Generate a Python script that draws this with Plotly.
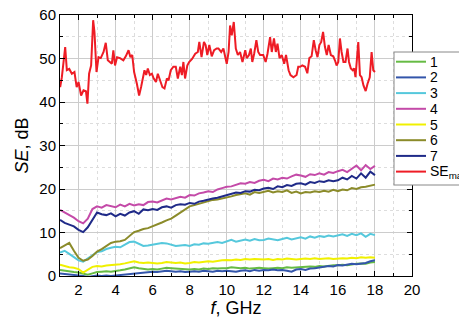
import plotly.graph_objects as go

# common frequency grid for the seven samples (GHz)
freq = [1.0, 1.25, 1.5, 1.75, 2.0, 2.25, 2.5, 2.75, 3.0, 3.25, 3.5, 3.75,
        4.0, 4.25, 4.5, 4.75, 5.0, 5.25, 5.5, 5.75, 6.0, 6.25, 6.5, 6.75,
        7.0, 7.25, 7.5, 7.75, 8.0, 8.25, 8.5, 8.75, 9.0, 9.25, 9.5, 9.75,
        10.0, 10.25, 10.5, 10.75, 11.0, 11.25, 11.5, 11.75, 12.0, 12.25, 12.5, 12.75,
        13.0, 13.25, 13.5, 13.75, 14.0, 14.25, 14.5, 14.75, 15.0, 15.25, 15.5, 15.75,
        16.0, 16.25, 16.5, 16.75, 17.0, 17.25, 17.5, 17.75, 18.0]

se_1 = [1.4, 1.2, 1.0, 0.9, 0.8, 0.5, 0.3, 0.6, 0.9, 1.0, 1.1, 1.0,
        1.1, 1.3, 1.5, 1.8, 2.0, 1.8, 1.6, 1.5, 1.6, 1.5, 1.7, 1.9,
        1.8, 1.7, 1.6, 1.5, 1.5, 1.6, 1.5, 1.7, 1.6, 1.8, 1.7, 1.8,
        1.8, 2.0, 1.9, 1.8, 1.9, 1.7, 1.8, 1.9, 1.8, 1.7, 1.8, 1.9,
        1.8, 2.0, 1.9, 2.0, 2.0, 2.1, 2.2, 2.1, 2.3, 2.2, 2.4, 2.5,
        2.5, 2.6, 2.5, 2.7, 2.8, 2.9, 2.8, 3.1, 3.2]
se_2 = [0.6, 0.5, 0.4, 0.3, 0.2, 0.0, -0.2, 0.0, 0.1, 0.0, 0.1, 0.0,
        0.1, 0.2, 0.3, 0.5, 0.5, 0.6, 0.8, 0.9, 1.0, 0.9, 1.1, 1.2,
        1.1, 1.0, 1.1, 0.9, 1.0, 1.1, 1.0, 1.2, 1.1, 1.0, 1.2, 1.1,
        1.2, 1.1, 1.0, 1.2, 1.3, 1.1, 1.4, 1.2, 1.4, 1.3, 1.5, 1.3,
        1.4, 1.2, 1.0, 1.5, 1.6, 1.4, 1.7, 1.8, 2.0, 2.1, 2.3, 2.2,
        2.5, 2.4, 2.6, 2.8, 2.7, 2.9, 3.0, 3.4, 3.6]
se_3 = [5.4, 5.8, 5.1, 4.3, 3.6, 3.3, 4.0, 4.9, 5.5, 5.7, 6.2, 6.5,
        6.7, 6.6, 7.2, 7.8, 7.9, 7.4, 6.9, 7.0, 7.2, 7.4, 7.6, 7.5,
        7.2, 6.9, 7.0, 7.1, 6.9, 7.3, 7.2, 7.5, 7.4, 7.6, 7.8, 7.6,
        8.0, 8.3, 7.9, 8.2, 8.4, 8.1, 8.5, 8.2, 8.3, 8.6, 8.4, 8.2,
        8.5, 8.8, 8.4, 8.7, 8.9, 8.6, 9.1, 8.8, 9.2, 9.0, 9.3, 9.1,
        9.4, 9.6, 9.2, 9.7, 9.4, 9.8, 9.0, 9.7, 9.4]
se_4 = [15.2, 14.6, 14.0, 13.4, 12.6, 12.1, 13.2, 15.4, 16.0, 15.7, 16.3, 16.1,
        15.8, 16.4, 16.0, 16.6, 16.2, 16.5, 16.3, 17.0, 17.1, 16.9, 17.4, 17.8,
        17.6, 17.9, 18.2, 18.0, 18.6, 18.5, 19.0, 19.2, 19.5, 19.3, 19.9, 20.2,
        20.5, 20.6, 20.9, 21.3, 21.2, 21.6, 21.4, 21.9, 22.1, 21.8, 22.4, 22.2,
        22.6, 22.4, 22.9, 23.3, 23.1, 22.8, 23.4, 23.2, 23.6, 23.3, 23.9, 23.7,
        24.1, 24.4, 23.9, 24.6, 25.4, 24.3, 25.5, 24.6, 25.3]
se_5 = [2.6, 2.3, 2.0, 1.9, 1.6, 0.8, 1.5, 2.1, 2.3, 2.2, 2.4, 2.5,
        2.5, 2.7, 2.9, 3.2, 3.4, 3.1, 3.0, 3.1, 3.0, 2.9, 3.0, 3.2,
        3.1, 3.0, 3.1, 2.9, 3.0, 3.2, 3.1, 3.3, 3.4, 3.3, 3.5, 3.6,
        3.7, 3.6, 3.8, 3.7, 3.9, 3.8, 3.9, 3.8, 3.8, 3.9, 3.7, 3.9,
        3.8, 4.0, 3.9, 3.8, 3.9, 4.0, 3.9, 4.1, 3.9, 4.0, 4.1, 3.9,
        4.0, 4.1, 4.0, 4.2, 4.1, 4.3, 4.2, 4.3, 4.2]
se_6 = [6.4, 7.0, 7.6, 5.8, 4.2, 3.5, 3.8, 4.6, 5.6, 6.2, 7.0, 7.6,
        7.9, 8.0, 8.3, 9.1, 10.1, 10.4, 10.8, 11.0, 11.4, 11.8, 12.3, 12.8,
        13.2, 13.9, 14.6, 15.3, 16.0, 16.3, 16.6, 16.9, 17.2, 17.5, 17.6, 17.8,
        18.0, 18.3, 18.6, 18.8, 19.0, 18.7, 19.3, 19.1, 19.4, 19.6, 19.2, 19.5,
        19.3, 19.7, 19.1, 19.4, 19.0, 19.3, 19.2, 19.5, 19.3, 19.6, 19.4, 19.8,
        19.5, 19.9, 19.7, 20.2, 20.0, 20.4, 20.5, 20.8, 21.0]
se_7 = [12.9, 12.2, 11.8, 11.4, 10.6, 10.1, 11.2, 12.8, 14.6, 14.2, 14.0, 14.4,
        13.7, 14.3, 13.9, 14.6, 14.9, 14.3, 15.3, 15.1, 15.4, 15.2, 15.8, 16.0,
        15.7, 16.3, 16.5, 16.4, 16.8, 16.6, 17.1, 17.3, 17.6, 17.8, 18.0, 18.3,
        18.6, 19.0, 19.2, 19.1, 19.5, 19.4, 19.8, 19.7, 20.1, 20.3, 20.0, 20.6,
        20.4, 20.9, 20.7, 21.2, 21.3, 21.0, 21.6, 21.4, 21.8, 21.6, 22.0, 21.8,
        22.0, 22.6, 22.2, 23.0, 22.4, 23.6, 22.6, 24.0, 23.2]

# SE max curve, read point by point
freq_max = [1.01, 1.1, 1.28, 1.37, 1.5, 1.64, 1.78, 1.9, 2.0, 2.14, 2.27, 2.4, 2.48,
            2.57, 2.68, 2.79, 2.86, 2.97, 3.08, 3.2, 3.35, 3.47, 3.58, 3.7, 3.8,
            3.88, 3.97, 4.08, 4.24, 4.42, 4.55, 4.7, 4.8, 4.9, 5.0, 5.15, 5.27,
            5.38, 5.56, 5.65, 5.74, 5.85, 5.96, 6.06, 6.18, 6.28, 6.39, 6.53, 6.64,
            6.77, 6.86, 6.98, 7.12, 7.25, 7.36, 7.49, 7.58, 7.66, 7.75, 7.87, 7.97,
            8.13, 8.3, 8.44, 8.52, 8.64, 8.77, 8.86, 8.95, 9.06, 9.19, 9.32, 9.46,
            9.55, 9.7, 9.82, 10.0, 10.1, 10.18, 10.27, 10.38, 10.49, 10.6, 10.72, 10.85,
            11.0, 11.08, 11.2, 11.3, 11.38, 11.48, 11.6, 11.7, 11.8, 11.97, 12.1, 12.2,
            12.34, 12.43, 12.55, 12.65, 12.74, 12.85, 12.97, 13.1, 13.2, 13.34, 13.44, 13.6,
            13.77, 13.86, 13.96, 14.08, 14.23, 14.35, 14.46, 14.58, 14.7, 14.8, 14.9, 15.0,
            15.1, 15.2, 15.3, 15.4, 15.5, 15.62, 15.75, 15.84, 15.93, 16.02, 16.11, 16.2,
            16.3, 16.41, 16.52, 16.6, 16.7, 16.8, 16.88, 16.95, 17.1, 17.19, 17.28, 17.38,
            17.5, 17.6, 17.72, 17.82, 17.91, 18.0]
se_max = [43.4, 45.7, 52.6, 47.3, 47.6, 46.5, 46.9, 43.4, 44.6, 41.5, 42.7, 42.5, 39.6,
          46.5, 48.4, 58.8, 56.1, 46.9, 50.3, 50.1, 51.5, 53.6, 49.6, 49.1, 48.8,
          51.9, 48.4, 50.3, 50.1, 49.6, 50.5, 51.9, 50.3, 50.8, 46.9, 44.2, 41.5,
          43.5, 47.3, 46.2, 47.7, 46.2, 46.5, 45.4, 44.6, 46.5, 45.0, 43.4, 43.1,
          45.4, 45.0, 47.3, 48.1, 48.1, 45.4, 48.1, 46.2, 49.2, 45.4, 48.4, 49.2,
          49.9, 51.1, 51.5, 53.8, 50.3, 53.8, 53.1, 50.8, 53.1, 50.5, 51.9, 52.3,
          52.3, 51.5, 52.3, 48.8, 51.5, 57.6, 55.3, 58.4, 52.3, 50.8, 51.5, 49.2,
          51.9, 50.1, 50.8, 52.3, 49.2, 51.1, 54.2, 51.5, 50.8, 50.8, 49.2, 51.1,
          54.9, 51.5, 54.6, 51.5, 53.4, 50.1, 50.8, 48.8, 50.8, 47.3, 46.2, 45.7,
          46.2, 48.1, 48.1, 48.4, 48.1, 46.6, 50.1, 50.5, 54.2, 51.9, 50.3, 53.1,
          53.8, 56.1, 52.7, 50.8, 53.1, 50.8, 50.5, 49.6, 48.4, 49.2, 54.6, 51.5,
          49.2, 49.2, 52.3, 49.2, 47.7, 47.3, 47.7, 45.7, 53.8, 46.2, 45.7, 43.8,
          42.5, 44.2, 45.7, 51.5, 47.3, 46.9]

names = ["1", "2", "3", "4", "5", "6", "7", "SE<sub>max</sub>"]
series = [se_1, se_2, se_3, se_4, se_5, se_6, se_7]
colors = ["#66bb44", "#3355aa", "#55c8dc", "#c44aa8", "#f0f000", "#8b8b2a", "#1f2a88", "#ee1c25"]

W, H = 459, 320
L, R, T, B = 60, 47, 15, 44

def px_x(p):
    return (p - L) / (W - L - R)

def px_y(p):
    return 1 - (p - T) / (H - T - B)

fig = go.Figure()

for name, ys, col in zip(names, series, colors):
    fig.add_trace(go.Scatter(x = freq, y = ys, name = name, mode = "lines",
                             line = dict(color = col, width = 2)))

fig.add_trace(go.Scatter(x = freq_max, y = se_max, name = names[-1], mode = "lines",
                         line = dict(color = colors[-1], width = 2)))

# legend drawn by hand, Origin style (the box runs off the right edge)
fig.add_shape(type = "rect", xref = "paper", yref = "paper",
              x0 = px_x(394), x1 = px_x(475), y0 = px_y(185), y1 = px_y(52),
              line = dict(color = "#888888", width = 1), fillcolor = "white", layer = "above")
for i, (name, col) in enumerate(zip(names, colors)):
    yy = px_y(61.7 + i * 15.7)
    fig.add_shape(type = "line", xref = "paper", yref = "paper",
                  x0 = px_x(396), x1 = px_x(426), y0 = yy, y1 = yy,
                  line = dict(color = col, width = 2), layer = "above")
    fig.add_annotation(text = name, xref = "paper", yref = "paper", x = px_x(428), y = yy,
                       xanchor = "left", yanchor = "middle", showarrow = False,
                       font = dict(size = 14, color = "black"))

axis_style = dict(showline = True, linecolor = "black", linewidth = 1, mirror = "ticks",
                  ticks = "inside", ticklen = 5, tickcolor = "black",
                  showgrid = True, gridcolor = "#cccccc", gridwidth = 1,
                  zeroline = False, tickfont = dict(size = 15, color = "black"))

fig.update_layout(
    width = W, height = H,
    margin = dict(l = L, r = R, t = T, b = B, autoexpand = False),
    paper_bgcolor = "white", plot_bgcolor = "white",
    font = dict(family = "Liberation Sans, Arial", color = "black"),
    showlegend = False,
    xaxis = dict(axis_style, range = [1, 20], tick0 = 0, dtick = 2,
                 minor = dict(dtick = 1, ticks = "inside", ticklen = 3, showgrid = True,
                              gridcolor = "#dddddd", griddash = "dot"),
                 title = dict(text = "<i>f</i>, GHz", font = dict(size = 18), standoff = 4)),
    yaxis = dict(axis_style, range = [0, 60], tick0 = 0, dtick = 10,
                 minor = dict(dtick = 5, ticks = "inside", ticklen = 3, showgrid = True,
                              gridcolor = "#dddddd", griddash = "dot"),
                 title = dict(text = "<i>SE</i>, dB", font = dict(size = 18), standoff = 6)),
)

# the page's default body margin would shift the chart by 8 px
fig.write_html("out.html", config = {"displayModeBar": False},
               post_script = "document.body.style.margin = '0';")
